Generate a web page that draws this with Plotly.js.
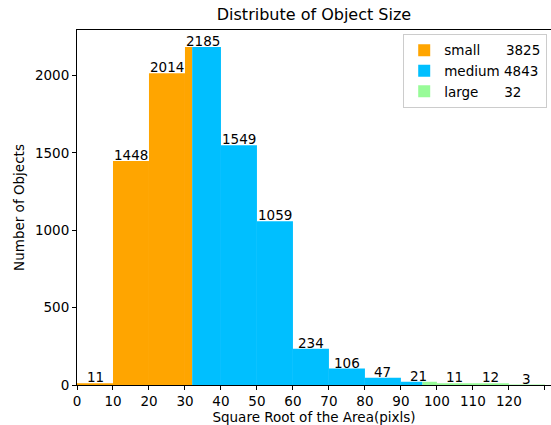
<!DOCTYPE html>
<html>
<head>
<meta charset="utf-8">
<script src="https://cdn.plot.ly/plotly-3.0.1.min.js"></script>
<style>html,body{margin:0;padding:0;background:#fff;}#chart{width:551px;height:425px;}</style>
</head>
<body>
<div id="chart"></div>
<script>
// Histogram bins (square root of area, pixels) and counts per bin
const binEdges = [0, 10, 20, 30, 40, 50, 60, 70, 80, 90, 100, 110, 120, 130];
const binCounts = [11, 1448, 2014, 2185, 1549, 1059, 234, 106, 47, 21, 11, 12, 3];
// Size categories (COCO thresholds: 32 and 96 pixels)
const categories = ['small', 'medium', 'large'];
const categoryTotals = [3825, 4843, 32];
const categoryBounds = [0, 32, 96, 130];
const categoryColors = ['#FFA500', '#00BFFF', '#98FB98'];
// Spaces between name and total in the legend labels
const legendGaps = [6, 1, 6];
// Axis ticks
const xTickValues = [0, 10, 20, 30, 40, 50, 60, 70, 80, 90, 100, 110, 120, 130];
const xTickLabels = ['0', '10', '20', '30', '40', '50', '60', '70', '80', '90', '100', '110', '120', ''];
const yTickValues = [0, 500, 1000, 1500, 2000];

const FONT = 'DejaVu Sans, sans-serif';
const FS = 13.5;
const NB = '\u00a0';

const traces = categories.map((cat, c) => {
  const xs = [], ws = [], ys = [];
  for (let i = 0; i < binCounts.length; i++) {
    const lo = Math.max(binEdges[i], categoryBounds[c]);
    const hi = Math.min(binEdges[i + 1], categoryBounds[c + 1]);
    if (hi > lo) {
      xs.push((lo + hi) / 2);
      ws.push(hi - lo);
      ys.push(binCounts[i]);
    }
  }
  return {
    type: 'bar',
    name: cat + NB.repeat(legendGaps[c]) + categoryTotals[c],
    x: xs, y: ys, width: ws,
    marker: {color: categoryColors[c], line: {width: 0}},
    hoverinfo: 'x+y'
  };
});

const annotations = binCounts.map((n, i) => ({
  x: (binEdges[i] + binEdges[i + 1]) / 2,
  y: n,
  xref: 'x', yref: 'y',
  text: String(n),
  showarrow: false,
  xanchor: 'center', yanchor: 'bottom',
  yshift: -4,
  font: {family: FONT, size: FS, color: '#000'}
}));

const layout = {
  width: 551, height: 425,
  margin: {l: 77, r: 0, t: 30, b: 40, pad: 0},
  paper_bgcolor: '#fff', plot_bgcolor: '#fff',
  font: {family: FONT, size: FS, color: '#000'},
  title: {text: 'Distribute of Object Size', font: {family: FONT, size: 16, color: '#000'},
          x: 0.5, xref: 'paper', xanchor: 'center', y: 1, yref: 'container', yanchor: 'top', pad: {t: 9}},
  barmode: 'overlay',
  showlegend: true,
  legend: {x: 0.992, xanchor: 'right', y: 0.989, yanchor: 'top',
           bgcolor: 'rgba(255,255,255,0.8)', bordercolor: '#cccccc', borderwidth: 1,
           font: {family: FONT, size: FS, color: '#000'}, traceorder: 'normal'},
  xaxis: {
    range: [0, 131.7], tickvals: xTickValues, ticktext: xTickLabels,
    ticks: 'outside', ticklen: 4, tickwidth: 1, tickcolor: '#000',
    showline: true, linecolor: '#000', linewidth: 1, mirror: true,
    showgrid: false, zeroline: false,
    title: {text: 'Square Root of the Area(pixls)', font: {family: FONT, size: FS}, standoff: 1}
  },
  yaxis: {
    range: [0, 2294.25], tickvals: yTickValues,
    ticks: 'outside', ticklen: 4, tickwidth: 1, tickcolor: '#000',
    showline: true, linecolor: '#000', linewidth: 1, mirror: false,
    showgrid: false, zeroline: false,
    title: {text: 'Number of Objects', font: {family: FONT, size: FS}, standoff: 7}
  },
  annotations: annotations
};

Plotly.newPlot('chart', traces, layout, {staticPlot: true, displayModeBar: false});
</script>
</body>
</html>
